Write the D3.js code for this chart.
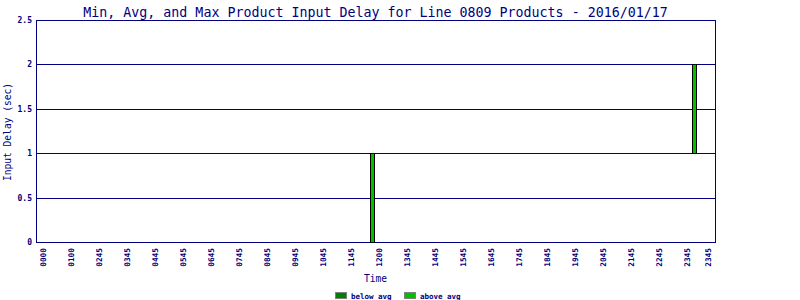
<!DOCTYPE html>
<html>
<head>
<meta charset="utf-8">
<script src="https://cdn.jsdelivr.net/npm/d3@7"></script>
<style>
body { margin: 0; background: #fff; }
text { font-family: "DejaVu Sans Mono", monospace; fill: #000080; }
</style>
</head>
<body>
<script>
// 96 time slots along the x axis, only some of them labelled
const slotCount = 96;
const tickSlots = [0, 4, 8, 12, 16, 20, 24, 28, 32, 36, 40, 44, 48, 52, 56, 60, 64, 68, 72, 76, 80, 84, 88, 92, 95];
const tickLabels = ["0000", "0100", "0245", "0345", "0445", "0545", "0645", "0745", "0845", "0945", "1045", "1145",
    "1200", "1345", "1445", "1545", "1645", "1745", "1845", "1945", "2045", "2145", "2245", "2345", "2345"];

// slots that had products, with min / avg / max input delay
const barSlots = [47, 93];
const minDelay = [0, 1];
const avgDelay = [0, 1];
const maxDelay = [1, 2];

const yTicks = [0, 0.5, 1, 1.5, 2, 2.5];

const legendNames = ["below avg", "above avg"];
const legendColors = ["#008000", "#00c000"];

const width = 800;
const height = 300;
const plot = {left: 36, right: 715, top: 20, bottom: 242};

const svg = d3.select("body").append("svg")
.attr("width", width)
.attr("height", height);

const x = d3.scalePoint()
.domain(d3.range(slotCount))
.range([plot.left, plot.right])
.padding(1);

const y = d3.scaleLinear()
.domain([0, 2.5])
.range([plot.bottom, plot.top]);

// grid lines
svg.append("g")
.selectAll("line")
.data(yTicks)
.enter().append("line")
.attr("x1", plot.left)
.attr("x2", plot.right)
.attr("y1", d => Math.round(y(d)) + 0.5)
.attr("y2", d => Math.round(y(d)) + 0.5)
.style("stroke", "#000080");

// frame
svg.append("rect")
.attr("x", plot.left + 0.5)
.attr("y", plot.top + 0.5)
.attr("width", plot.right - plot.left)
.attr("height", plot.bottom - plot.top)
.style("fill", "none")
.style("stroke", "#000080");

// y tick labels
svg.append("g")
.selectAll("text")
.data(yTicks)
.enter().append("text")
.attr("x", 32)
.attr("y", d => Math.round(y(d)) + 3)
.attr("text-anchor", "end")
.style("font-size", "8px")
.style("font-weight", "bold")
.text(d => d);

// x tick labels, rotated
svg.append("g")
.selectAll("text")
.data(tickSlots)
.enter().append("text")
.attr("transform", d => "translate(" + (x(d) + 2.5) + ",248) rotate(-90)")
.attr("text-anchor", "end")
.style("font-size", "7.8px")
.style("font-weight", "bold")
.text((d, i) => tickLabels[i]);

// bars: min -> avg dark, avg -> max light
const bars = svg.append("g");
barSlots.forEach(function(s, i) {
    const bx = Math.round(x(s)) - 2 + 0.5;
    if (avgDelay[i] > minDelay[i]) {
        bars.append("rect")
        .attr("x", bx)
        .attr("y", Math.round(y(avgDelay[i])) + 0.5)
        .attr("width", 4)
        .attr("height", Math.round(y(minDelay[i])) - Math.round(y(avgDelay[i])))
        .style("fill", legendColors[0])
        .style("stroke", "#000");
    }
    if (maxDelay[i] > avgDelay[i]) {
        bars.append("rect")
        .attr("x", bx)
        .attr("y", Math.round(y(maxDelay[i])) + 0.5)
        .attr("width", 4)
        .attr("height", Math.round(y(avgDelay[i])) - Math.round(y(maxDelay[i])))
        .style("fill", legendColors[1])
        .style("stroke", "#000");
    }
});

// title
svg.append("text")
.attr("x", (plot.left + plot.right) / 2)
.attr("y", 17)
.attr("text-anchor", "middle")
.style("font-size", "13.3px")
.text("Min, Avg, and Max Product Input Delay for Line 0809 Products - 2016/01/17");

// axis titles
svg.append("text")
.attr("x", (plot.left + plot.right) / 2)
.attr("y", 282)
.attr("text-anchor", "middle")
.style("font-size", "9.6px")
.text("Time");

svg.append("text")
.attr("transform", "translate(11,132) rotate(-90)")
.attr("text-anchor", "middle")
.style("font-size", "9.6px")
.text("Input Delay (sec)");

// legend
const legend = svg.append("g")
.selectAll("g")
.data(legendNames)
.enter().append("g")
.attr("transform", (d, i) => "translate(" + (335 + i * 69) + ",292)");

legend.append("rect")
.attr("x", 0.5)
.attr("y", 0.5)
.attr("width", 11)
.attr("height", 6)
.style("fill", (d, i) => legendColors[i])
.style("stroke", "#808080");

legend.append("text")
.attr("x", 16)
.attr("y", 6.5)
.style("font-size", "7.5px")
.style("font-weight", "bold")
.text(d => d);
</script>
</body>
</html>
